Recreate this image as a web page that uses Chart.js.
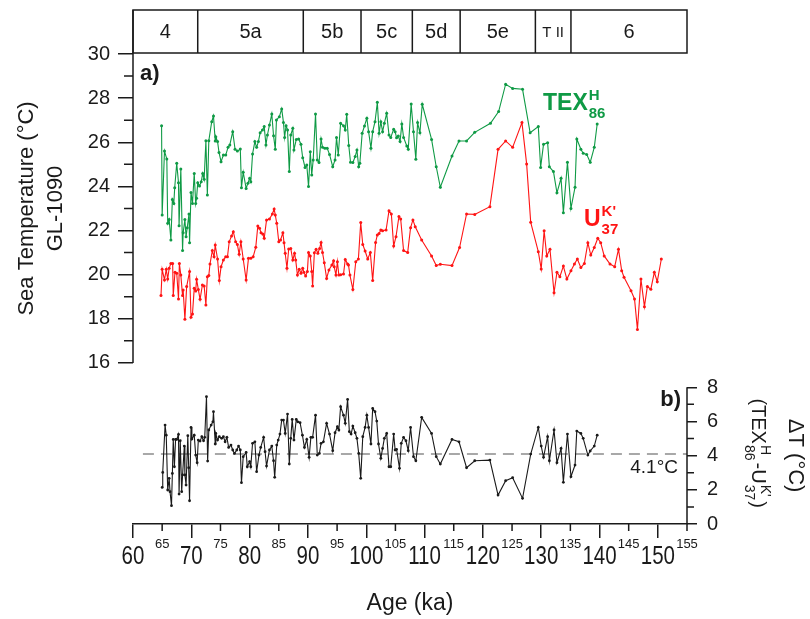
<!DOCTYPE html>
<html>
<head>
<meta charset="utf-8">
<title>GL-1090 sea temperature</title>
<script src="https://cdn.jsdelivr.net/npm/chart.js@4.4.1/dist/chart.umd.min.js"></script>
<style>
  html, body { margin: 0; padding: 0; background: #fff; }
  canvas { display: block; }
</style>
</head>
<body>
<canvas id="chart" width="810" height="619"></canvas>
<script>
// TEX86H record (age in ka, temperature in °C)
const texAge = [64.9, 65.0, 65.4, 65.8, 65.95, 66.2, 66.5, 66.75, 67.0, 67.15, 67.5, 67.8, 67.9, 68.2, 68.5, 68.6, 68.9, 69.1, 69.3, 69.6,
  69.7, 69.95, 70.2, 70.5, 70.75, 70.9, 71.1, 71.4, 71.7, 71.95, 72.2, 72.5, 72.75, 73.0, 73.5, 73.8, 74.1, 74.2, 74.5, 74.75,
  75.1, 75.5, 75.9, 76.3, 76.6, 77.1, 77.5, 77.9, 78.4, 78.6, 78.9, 79.4, 79.7, 80.0, 80.2, 80.5, 80.9, 81.2, 81.5, 81.8,
  82.2, 82.5, 82.8, 83.05, 83.4, 83.8, 84.1, 84.4, 84.6, 85.1, 85.5, 85.8, 86.0, 86.25, 86.5, 86.8, 87.05, 87.4, 87.6, 88.0,
  88.4, 88.8, 89.1, 89.5, 89.8, 90.1, 90.4, 90.65, 90.9, 91.3, 91.6, 91.9, 92.25, 92.5, 92.9, 93.3, 93.7, 94.25, 94.65, 94.9,
  95.2, 95.6, 96.1, 96.4, 96.65, 97.0, 97.3, 97.7, 98.1, 98.4, 98.7, 98.9, 99.3, 99.7, 100.1, 100.4, 100.8, 101.1, 101.5, 101.9,
  102.2, 102.5, 102.8, 103.1, 103.5, 103.9, 104.2, 104.7, 104.95, 105.2, 105.5, 105.8, 106.1, 106.4, 106.95, 107.2, 107.7, 108.1, 108.5, 108.8,
  109.2, 109.6, 111.2, 112.0, 112.7, 114.7, 115.9, 117.2, 118.6, 121.3, 122.7, 123.9, 125.1, 126.8, 128.1, 129.5, 129.9, 130.4, 131.1, 131.4,
  132.1, 132.7, 133.4, 133.8, 134.5, 135.1, 135.8, 136.1, 136.8, 137.2, 137.8, 138.4, 139.1, 139.6];
const texTemp = [26.75, 22.7, 25.6, 25.24, 22.33, 22.5, 21.57, 23.41, 23.23, 23.94, 25.05, 24.17, 22.22, 24.79, 21.09, 21.9, 22.5, 21.72, 22.13, 22.75,
  21.45, 23.72, 23.23, 24.59, 23.23, 23.46, 24.17, 24.02, 24.21, 24.59, 24.32, 26.07, 23.61, 26.07, 26.93, 27.19, 26.06, 26.25, 26.03, 25.54,
  25.12, 25.42, 25.42, 25.77, 25.88, 26.48, 25.68, 25.6, 25.69, 23.94, 24.64, 23.91, 24.14, 24.37, 24.21, 25.47, 26.03, 25.77, 26.03, 26.43,
  26.56, 26.71, 25.88, 26.33, 26.78, 27.28, 26.3, 25.68, 27.01, 27.16, 27.51, 26.9, 26.22, 26.75, 26.56, 24.67, 26.33, 26.63, 25.65, 26.13,
  26.15, 25.91, 25.3, 24.86, 24.97, 23.99, 25.57, 24.52, 25.2, 27.28, 25.2, 25.08, 26.15, 25.77, 25.73, 25.73, 25.45, 24.89, 25.2, 26.22,
  25.42, 26.86, 26.75, 26.56, 27.27, 25.85, 25.09, 25.08, 25.35, 25.65, 24.89, 25.05, 26.41, 26.74, 27.09, 26.48, 25.73, 26.48, 26.93, 27.81,
  26.41, 26.93, 26.48, 26.86, 27.31, 26.33, 26.22, 26.59, 26.48, 26.21, 26.28, 26.03, 26.83, 26.22, 25.83, 25.68, 27.73, 26.48, 25.23, 26.89,
  26.43, 27.72, 26.13, 24.89, 23.96, 25.38, 26.06, 26.06, 26.45, 26.86, 27.39, 28.63, 28.44, 28.4, 26.43, 26.71, 24.86, 25.91, 25.98, 24.89,
  24.67, 23.71, 24.37, 22.81, 25.09, 23.0, 23.96, 26.15, 25.68, 25.5, 25.45, 25.09, 25.77, 26.83];

// UK'37 record
const ukAge = [64.8, 65.0, 65.4, 65.7, 65.95, 66.2, 66.5, 66.8, 66.9, 67.2, 67.5, 67.8, 67.95, 68.2, 68.5, 68.6, 68.9, 69.2, 69.7, 69.95,
  70.2, 70.5, 70.75, 70.9, 71.2, 71.5, 71.9, 72.2, 72.5, 72.75, 73.0, 73.2, 73.6, 73.9, 74.1, 74.5, 74.8, 75.1, 75.5, 75.9,
  76.2, 76.5, 76.9, 77.2, 77.6, 77.9, 78.2, 78.5, 78.9, 79.4, 79.8, 80.2, 80.6, 81.05, 81.4, 81.7, 81.95, 82.25, 82.5, 82.9,
  83.4, 83.9, 84.2, 84.4, 84.65, 85.0, 85.3, 85.7, 85.9, 86.1, 86.4, 86.7, 87.05, 87.4, 87.7, 87.9, 88.2, 88.5, 88.8, 89.1,
  89.3, 89.6, 89.9, 90.1, 90.4, 90.65, 90.8, 91.1, 91.4, 91.7, 92.0, 92.25, 92.5, 92.8, 93.2, 93.6, 94.1, 94.4, 94.5, 94.8,
  95.05, 95.3, 95.6, 96.1, 96.4, 96.8, 96.95, 97.2, 97.7, 98.2, 98.65, 99.05, 99.4, 99.8, 100.25, 100.7, 101.1, 101.6, 101.9, 102.2,
  102.5, 102.8, 103.4, 103.9, 104.3, 104.7, 105.1, 105.6, 105.9, 106.4, 107.1, 107.6, 108.0, 108.4, 109.5, 111.2, 112.0, 112.7, 114.7, 116.0,
  117.2, 118.6, 121.2, 122.6, 123.9, 125.1, 126.7, 127.5, 128.2, 129.5, 130.0, 130.5, 130.95, 131.5, 132.2, 132.7, 133.2, 133.8, 134.4, 135.1,
  135.7, 136.2, 136.8, 137.4, 138.0, 138.5, 139.1, 139.7, 140.2, 140.8, 141.8, 142.6, 143.25, 143.8, 144.2, 145.4, 146.0, 146.5, 147.1, 147.7,
  148.2, 148.8, 149.4, 149.9, 150.6];
const ukTemp = [19.05, 20.24, 19.76, 20.24, 19.8, 20.29, 20.51, 20.51, 19.05, 20.11, 20.06, 18.9, 20.51, 19.98, 19.05, 19.3, 17.98, 19.46, 20.14, 18.07,
  18.22, 19.38, 19.26, 19.79, 19.33, 18.88, 19.53, 19.49, 18.63, 19.91, 19.96, 20.48, 21.09, 20.81, 21.34, 20.71, 19.73, 20.36, 20.66, 20.81,
  20.81, 21.49, 21.75, 21.95, 21.49, 21.37, 20.92, 21.49, 20.71, 19.76, 20.74, 20.74, 20.81, 21.24, 22.2, 22.1, 21.9, 21.84, 21.65, 22.48,
  22.52, 22.75, 22.98, 22.7, 22.33, 21.49, 21.57, 21.9, 21.45, 20.97, 20.29, 21.16, 21.19, 20.66, 20.97, 20.66, 19.98, 20.24, 20.06, 20.29,
  20.11, 19.94, 20.14, 21.0, 20.85, 20.14, 19.49, 20.99, 21.15, 20.97, 21.19, 21.46, 21.0, 20.54, 19.83, 20.21, 20.44, 20.63, 20.36, 19.98,
  20.59, 19.98, 20.0, 20.03, 20.69, 20.48, 20.44, 19.98, 19.33, 20.59, 20.71, 22.36, 21.37, 21.07, 20.71, 21.0, 19.73, 21.46, 21.8, 21.87,
  22.02, 21.99, 22.02, 22.9, 22.75, 21.3, 21.72, 22.63, 22.52, 21.09, 21.0, 22.13, 22.48, 22.17, 21.57, 20.85, 20.41, 20.47, 20.41, 21.23,
  22.75, 22.73, 23.08, 25.68, 26.06, 25.77, 26.89, 25.02, 22.37, 21.04, 20.26, 21.99, 20.85, 21.15, 19.18, 20.11, 19.91, 20.39, 19.8, 20.18,
  20.48, 20.71, 20.32, 20.51, 21.45, 20.89, 21.23, 21.65, 21.45, 20.85, 20.48, 20.36, 21.15, 20.18, 19.88, 19.27, 18.9, 17.52, 19.8, 18.55,
  19.46, 19.34, 20.11, 19.68, 20.71];

// difference TEX86H - UK'37
const deltaAge = [65.0, 65.1, 65.5, 65.7, 65.95, 66.2, 66.35, 66.6, 66.75, 66.9, 67.1, 67.3, 67.5, 67.8, 67.9, 68.1, 68.35, 68.5, 68.8, 68.9,
  69.1, 69.4, 69.55, 69.7, 69.95, 70.1, 70.5, 70.75, 71.0, 71.2, 71.5, 71.8, 72.1, 72.3, 72.6, 72.8, 73.0, 73.4, 73.7, 73.8,
  74.1, 74.2, 74.5, 74.8, 75.2, 75.5, 75.8, 76.1, 76.4, 76.8, 77.1, 77.4, 77.8, 78.1, 78.4, 78.6, 78.9, 79.4, 79.6, 80.0,
  80.2, 80.5, 80.9, 81.2, 81.6, 81.9, 82.4, 82.65, 82.9, 83.4, 83.8, 84.1, 84.3, 84.65, 84.9, 85.2, 85.5, 85.8, 86.1, 86.5,
  86.8, 87.05, 87.3, 87.6, 88.0, 88.25, 88.65, 89.05, 89.4, 89.8, 90.2, 90.5, 90.8, 91.3, 91.6, 91.96, 92.25, 92.65, 93.2, 93.7,
  94.25, 94.65, 95.05, 95.3, 95.6, 96.1, 96.4, 96.8, 97.1, 97.4, 97.7, 98.1, 98.4, 98.7, 99.05, 99.4, 99.8, 100.1, 100.4, 100.8,
  101.1, 101.5, 101.8, 102.1, 102.5, 102.8, 103.1, 103.5, 103.9, 104.2, 104.7, 104.95, 105.2, 105.7, 106.0, 106.4, 106.8, 107.2, 107.6, 108.1,
  108.5, 109.5, 111.2, 112.0, 112.7, 114.7, 115.9, 117.2, 118.6, 121.2, 122.6, 123.9, 125.1, 126.8, 128.2, 129.5, 130.0, 130.4, 131.1, 131.4,
  132.2, 132.7, 133.4, 133.8, 134.5, 135.1, 135.8, 136.1, 136.8, 137.2, 138.0, 138.4, 139.1, 139.6];
const deltaTemp = [2.14, 3.02, 5.79, 5.2, 1.99, 2.67, 1.89, 1.07, 2.96, 4.95, 3.35, 4.95, 4.95, 5.24, 1.75, 4.87, 1.89, 2.87, 4.56, 2.87,
  2.28, 5.17, 3.29, 1.36, 5.65, 4.97, 5.2, 4.03, 3.59, 4.91, 4.85, 5.11, 4.87, 5.07, 7.45, 3.68, 5.5, 5.79, 5.98, 6.57,
  4.68, 5.3, 4.91, 5.11, 5.01, 5.11, 4.81, 5.07, 4.48, 4.62, 4.33, 4.13, 4.33, 4.56, 4.33, 2.42, 3.94, 4.19, 3.35, 3.65,
  3.35, 4.72, 4.81, 3.06, 4.03, 4.48, 5.07, 4.23, 3.39, 4.33, 4.56, 3.7, 2.73, 4.62, 4.91, 5.26, 6.08, 6.08, 5.3, 6.43,
  3.51, 5.01, 6.12, 4.91, 6.12, 5.98, 5.93, 5.2, 4.48, 4.95, 3.9, 5.07, 5.07, 6.37, 4.03, 4.13, 4.72, 4.81, 5.89, 5.26,
  4.29, 5.34, 5.69, 5.5, 6.86, 6.37, 5.89, 7.29, 5.4, 5.26, 5.73, 5.34, 5.01, 4.13, 2.67, 5.11, 5.65, 6.37, 5.65, 4.68,
  6.76, 6.57, 6.02, 4.68, 3.84, 4.42, 5.01, 5.3, 3.35, 3.35, 5.26, 4.33, 4.37, 3.26, 4.72, 5.07, 4.87, 4.29, 5.65, 3.94,
  3.7, 6.24, 5.3, 3.94, 3.51, 4.95, 4.81, 3.29, 3.7, 3.74, 1.69, 2.53, 2.71, 1.5, 4.09, 5.65, 4.56, 3.9, 5.11, 3.7,
  5.5, 3.59, 4.42, 2.44, 5.26, 2.77, 3.45, 5.44, 5.3, 5.01, 4.03, 4.27, 4.56, 5.2];

const meanDelta = 4.1;
const meanLineAge = [61.7, 155];

// marine isotope stages across the top
const stageEdges = [60, 71.1, 89.2, 99.1, 107.9, 116.1, 129, 135.1, 155];
const stageNames = ['4', '5a', '5b', '5c', '5d', '5e', 'T II', '6'];

const sstTicks = [16, 18, 20, 22, 24, 26, 28, 30];
const deltaTicks = [0, 2, 4, 6, 8];

const SANS = '"Liberation Sans", Arial, sans-serif';
const INK = '#1a1a1a';
const GREEN = '#0f9a45';
const RED = '#ff1414';

const pts = (xs, ys) => xs.map((x, i) => ({ x: x, y: ys[i] }));

// label + superscript + subscript, returns the width used
function drawIndexed(ctx, x, y, base, sup, sub, big, small, bold) {
  const w = bold ? 'bold ' : '';
  ctx.font = w + big + 'px ' + SANS;
  ctx.fillText(base, x, y);
  const bw = ctx.measureText(base).width;
  ctx.font = w + small + 'px ' + SANS;
  ctx.fillText(sup, x + bw + 1, y - big * 0.45);
  ctx.fillText(sub, x + bw + 1, y + small * 0.5);
  return bw + 1 + Math.max(ctx.measureText(sup).width, ctx.measureText(sub).width);
}

const decor = {
  id: 'decor',
  afterDraw(chart) {
    const ctx = chart.ctx;
    const area = chart.chartArea;
    const x = chart.scales.x, yS = chart.scales.ySst, yD = chart.scales.yDelta;
    ctx.save();
    ctx.strokeStyle = INK;
    ctx.fillStyle = INK;
    ctx.lineWidth = 1.5;

    // stage strip
    const top = 10, bot = 53;
    const sx = stageEdges.map(v => x.getPixelForValue(v));
    ctx.strokeRect(sx[0], top, sx[sx.length - 1] - sx[0], bot - top);
    ctx.beginPath();
    for (let i = 1; i < sx.length - 1; i++) {
      ctx.moveTo(sx[i], top);
      ctx.lineTo(sx[i], bot);
    }
    ctx.stroke();
    ctx.textAlign = 'center';
    ctx.textBaseline = 'middle';
    stageNames.forEach((name, i) => {
      ctx.font = (name === 'T II' ? 15 : 20) + 'px ' + SANS;
      ctx.fillText(name, (sx[i] + sx[i + 1]) / 2, (top + bot) / 2 + 1);
    });

    // left axis line + minor ticks
    ctx.beginPath();
    ctx.moveTo(area.left, top);
    ctx.lineTo(area.left, yS.getPixelForValue(16));
    for (let v = 17; v < 30; v += 2) {
      const py = yS.getPixelForValue(v);
      ctx.moveTo(area.left - 9, py);
      ctx.lineTo(area.left, py);
    }
    // right axis line + minor ticks
    ctx.moveTo(area.right, yD.getPixelForValue(0));
    ctx.lineTo(area.right, yD.getPixelForValue(8));
    for (let v = 1; v < 8; v += 2) {
      const py = yD.getPixelForValue(v);
      ctx.moveTo(area.right, py);
      ctx.lineTo(area.right + 7, py);
    }
    // minor x ticks
    for (let v = 65; v <= 155; v += 10) {
      const px = x.getPixelForValue(v);
      ctx.moveTo(px, area.bottom);
      ctx.lineTo(px, area.bottom + 7);
    }
    ctx.stroke();

    // x labels: big condensed decades, small raised fives
    ctx.textAlign = 'center';
    ctx.textBaseline = 'middle';
    for (let v = 60; v <= 155; v += 5) {
      const px = x.getPixelForValue(v);
      if (v % 10 === 0) {
        ctx.save();
        ctx.translate(px, area.bottom + 33);
        ctx.scale(0.82, 1);
        ctx.font = '25px ' + SANS;
        ctx.fillText(String(v), 0, 0);
        ctx.restore();
      } else {
        ctx.font = '13px ' + SANS;
        ctx.fillText(String(v), px, area.bottom + 20);
      }
    }

    // left titles
    ctx.save();
    ctx.translate(27, (yS.getPixelForValue(30) + yS.getPixelForValue(16)) / 2);
    ctx.rotate(-Math.PI / 2);
    ctx.font = '22px ' + SANS;
    ctx.fillText('Sea Temperature (°C)', 0, 0);
    ctx.fillText('GL-1090', 0, 29);
    ctx.restore();

    // panel letters
    ctx.font = 'bold 22px ' + SANS;
    ctx.textAlign = 'left';
    ctx.textBaseline = 'alphabetic';
    ctx.fillText('a)', 140, 80);
    ctx.textAlign = 'right';
    ctx.fillText('b)', 681, 406);

    // series names
    ctx.textAlign = 'left';
    ctx.fillStyle = GREEN;
    drawIndexed(ctx, 543, 110, 'TEX', 'H', '86', 23, 15, true);
    ctx.fillStyle = RED;
    drawIndexed(ctx, 584, 226, 'U', "K'", '37', 23, 15, true);

    // mean value
    ctx.fillStyle = INK;
    ctx.font = '19px ' + SANS;
    ctx.textAlign = 'right';
    ctx.fillText(meanDelta + '°C', 678, 473);

    // right titles
    const midD = (yD.getPixelForValue(0) + yD.getPixelForValue(8)) / 2;
    ctx.save();
    ctx.translate(789, midD);
    ctx.rotate(Math.PI / 2);
    ctx.font = '22px ' + SANS;
    ctx.textAlign = 'center';
    ctx.fillText('ΔT (°C)', 0, 0);
    ctx.restore();

    ctx.save();
    ctx.translate(752, midD);
    ctx.rotate(Math.PI / 2);
    ctx.textAlign = 'left';
    const parts = [['(TEX', 20], ['86', 14], ['-U', 20], ['37', 14], [')', 20]];
    let total = 0;
    parts.forEach(p => { ctx.font = p[1] + 'px ' + SANS; total += ctx.measureText(p[0]).width + 2; });
    let cx = -total / 2;
    cx += drawIndexed(ctx, cx, 0, '(TEX', 'H', '86', 20, 14, false) + 2;
    cx += drawIndexed(ctx, cx, 0, '-U', "K'", '37', 20, 14, false) + 1;
    ctx.font = '20px ' + SANS;
    ctx.fillText(')', cx, 0);
    ctx.restore();

    ctx.restore();
  }
};

new Chart(document.getElementById('chart'), {
  type: 'line',
  data: {
    datasets: [
      {
        data: pts(meanLineAge, meanLineAge.map(() => meanDelta)),
        yAxisID: 'yDelta',
        borderColor: '#8c8c8c',
        borderWidth: 1.5,
        borderDash: [11, 7],
        pointRadius: 0,
        order: 10
      },
      {
        data: pts(texAge, texTemp),
        yAxisID: 'ySst',
        borderColor: GREEN,
        backgroundColor: GREEN,
        borderWidth: 1.1,
        pointRadius: 1.5,
        pointBorderWidth: 0,
        tension: 0
      },
      {
        data: pts(ukAge, ukTemp),
        yAxisID: 'ySst',
        borderColor: RED,
        backgroundColor: RED,
        borderWidth: 1.1,
        pointRadius: 1.5,
        pointBorderWidth: 0,
        tension: 0
      },
      {
        data: pts(deltaAge, deltaTemp),
        yAxisID: 'yDelta',
        borderColor: INK,
        backgroundColor: INK,
        borderWidth: 1.1,
        pointRadius: 1.4,
        pointBorderWidth: 0,
        tension: 0
      }
    ]
  },
  options: {
    responsive: false,
    animation: false,
    layout: { padding: { top: 54, left: 0, right: 0, bottom: 0 } },
    plugins: { legend: { display: false }, tooltip: { enabled: false } },
    scales: {
      x: {
        type: 'linear',
        position: 'bottom',
        min: 60,
        max: 155,
        afterFit: s => { s.height = 95; },
        ticks: {
          stepSize: 5,
          autoSkip: false,
          maxRotation: 0,
          callback: () => ''
        },
        grid: {
          drawOnChartArea: false,
          tickLength: 14,
          lineWidth: 1.5,
          tickColor: c => (c.tick && c.tick.value % 10 === 0 ? INK : 'rgba(0,0,0,0)')
        },
        border: { display: true, color: INK, width: 1.5 },
        title: {
          display: true,
          text: 'Age (ka)',
          color: INK,
          font: { family: SANS, size: 23 },
          padding: { top: 0, bottom: 2 }
        }
      },
      ySst: {
        type: 'linear',
        position: 'left',
        min: 8.7,
        max: 30,
        afterFit: s => { s.width = 133; },
        afterBuildTicks: s => { s.ticks = sstTicks.map(v => ({ value: v })); },
        ticks: { padding: 8, color: INK, font: { family: SANS, size: 20 } },
        grid: { drawOnChartArea: false, tickLength: 15, lineWidth: 1.5, tickColor: INK },
        border: { display: false }
      },
      yDelta: {
        type: 'linear',
        position: 'right',
        min: 0,
        max: 27.5,
        afterFit: s => { s.width = 123; },
        afterBuildTicks: s => { s.ticks = deltaTicks.map(v => ({ value: v })); },
        ticks: { padding: 10, color: INK, font: { family: SANS, size: 20 } },
        grid: { drawOnChartArea: false, tickLength: 10, lineWidth: 1.5, tickColor: INK },
        border: { display: false }
      }
    }
  },
  plugins: [decor]
});
</script>
</body>
</html>
